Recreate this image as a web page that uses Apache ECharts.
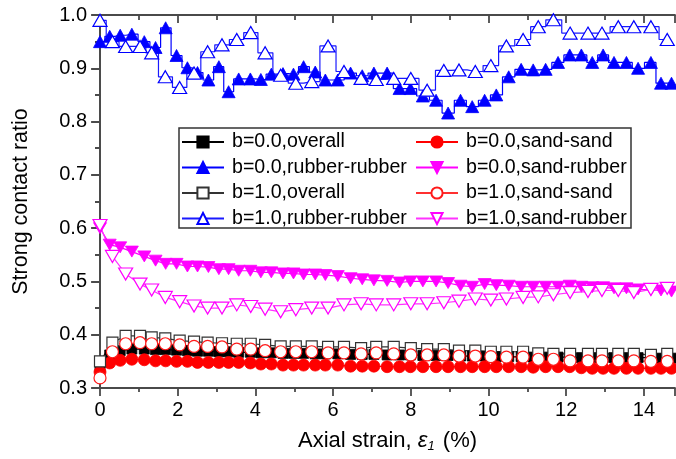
<!DOCTYPE html>
<html><head><meta charset="utf-8">
<script src="https://cdn.jsdelivr.net/npm/echarts@6/dist/echarts.min.js"></script>
<style>html,body{margin:0;padding:0;background:#fff}#c{width:676px;height:459px}</style>
</head><body><div id="c"></div>
<script>
// ---- data ----
const seriesNames = ['b=0.0,overall','b=0.0,sand-sand','b=0.0,rubber-rubber','b=0.0,sand-rubber',
                     'b=1.0,overall','b=1.0,sand-sand','b=1.0,rubber-rubber','b=1.0,sand-rubber'];
const xTickLabels = [0,2,4,6,8,10,12,14];
const yTickLabels = [0.3,0.4,0.5,0.6,0.7,0.8,0.9,1.0];

// strain (%) at sampled points, b=0.0 runs
const strainB0 = [0, 0.25, 0.52, 0.82, 1.14, 1.43, 1.69, 1.97, 2.25, 2.51,
  2.79, 3.06, 3.31, 3.57, 3.87, 4.14, 4.41, 4.71, 4.98, 5.24,
  5.54, 5.80, 6.12, 6.45, 6.75, 7.05, 7.39, 7.71, 7.99, 8.31,
  8.65, 8.96, 9.28, 9.58, 9.90, 10.20, 10.52, 10.84, 11.15, 11.47,
  11.79, 12.09, 12.39, 12.67, 12.95, 13.23, 13.55, 13.85, 14.18, 14.44,
  14.71];
// strain (%) at sampled points, b=1.0 runs
const strainB1 = [0, 0.32, 0.66, 1.03, 1.33, 1.68, 2.05, 2.42, 2.77, 3.14,
  3.52, 3.88, 4.25, 4.65, 5.04, 5.45, 5.87, 6.28, 6.72, 7.11,
  7.56, 8.00, 8.42, 8.85, 9.24, 9.66, 10.06, 10.46, 10.89, 11.28,
  11.67, 12.10, 12.56, 12.92, 13.34, 13.74, 14.18, 14.60];

const overallB0 = [0.340, 0.362, 0.370, 0.373, 0.373, 0.372, 0.372, 0.371, 0.370, 0.369,
  0.369, 0.368, 0.368, 0.367, 0.367, 0.366, 0.366, 0.365, 0.365, 0.365,
  0.364, 0.364, 0.364, 0.363, 0.363, 0.363, 0.362, 0.362, 0.362, 0.361,
  0.361, 0.361, 0.360, 0.360, 0.360, 0.359, 0.359, 0.359, 0.358, 0.358,
  0.358, 0.358, 0.357, 0.357, 0.357, 0.357, 0.357, 0.357, 0.357, 0.356,
  0.356];
const sandSandB0 = [0.330, 0.347, 0.352, 0.354, 0.353, 0.351, 0.351, 0.350, 0.350, 0.348,
  0.348, 0.348, 0.348, 0.348, 0.347, 0.345, 0.345, 0.343, 0.343, 0.343,
  0.343, 0.343, 0.343, 0.341, 0.341, 0.341, 0.340, 0.340, 0.340, 0.340,
  0.340, 0.340, 0.340, 0.340, 0.340, 0.340, 0.340, 0.340, 0.339, 0.340,
  0.340, 0.340, 0.338, 0.337, 0.337, 0.337, 0.337, 0.337, 0.337, 0.337,
  0.337];
const rubberRubberB0 = [0.950, 0.960, 0.962, 0.964, 0.950, 0.939, 0.976, 0.924, 0.901, 0.892,
  0.878, 0.903, 0.856, 0.880, 0.880, 0.879, 0.889, 0.890, 0.889, 0.903,
  0.893, 0.878, 0.878, 0.891, 0.886, 0.891, 0.891, 0.862, 0.862, 0.848,
  0.840, 0.816, 0.840, 0.828, 0.840, 0.850, 0.884, 0.898, 0.897, 0.898,
  0.911, 0.925, 0.925, 0.911, 0.925, 0.911, 0.911, 0.900, 0.911, 0.872,
  0.872];
const sandRubberB0 = [0.600, 0.569, 0.564, 0.556, 0.547, 0.539, 0.533, 0.533, 0.528, 0.528,
  0.527, 0.523, 0.523, 0.520, 0.520, 0.517, 0.517, 0.515, 0.515, 0.513,
  0.513, 0.512, 0.510, 0.506, 0.504, 0.502, 0.501, 0.498, 0.500, 0.500,
  0.500, 0.497, 0.492, 0.490, 0.495, 0.493, 0.492, 0.490, 0.490, 0.490,
  0.490, 0.492, 0.490, 0.489, 0.489, 0.487, 0.487, 0.485, 0.484, 0.483,
  0.481];

const overallB1 = [0.350, 0.385, 0.398, 0.398, 0.395, 0.393, 0.389, 0.387, 0.385, 0.384,
  0.383, 0.383, 0.381, 0.378, 0.378, 0.378, 0.377, 0.377, 0.375, 0.377,
  0.377, 0.375, 0.373, 0.373, 0.370, 0.370, 0.368, 0.368, 0.368, 0.365,
  0.364, 0.364, 0.364, 0.364, 0.364, 0.364, 0.362, 0.364];
const sandSandB1 = [0.319, 0.368, 0.383, 0.385, 0.383, 0.383, 0.381, 0.378, 0.378, 0.377,
  0.373, 0.373, 0.370, 0.368, 0.368, 0.368, 0.366, 0.366, 0.364, 0.366,
  0.364, 0.362, 0.362, 0.362, 0.360, 0.360, 0.359, 0.358, 0.358, 0.354,
  0.354, 0.351, 0.351, 0.351, 0.351, 0.351, 0.350, 0.350];
const rubberRubberB1 = [0.990, 0.950, 0.941, 0.941, 0.929, 0.884, 0.864, 0.891, 0.931, 0.944,
  0.954, 0.967, 0.929, 0.887, 0.872, 0.875, 0.942, 0.894, 0.881, 0.879,
  0.881, 0.881, 0.859, 0.896, 0.897, 0.894, 0.905, 0.942, 0.954, 0.978,
  0.991, 0.966, 0.966, 0.966, 0.978, 0.978, 0.978, 0.954];
const sandRubberB1 = [0.605, 0.547, 0.514, 0.495, 0.484, 0.470, 0.462, 0.454, 0.450, 0.450,
  0.456, 0.453, 0.448, 0.443, 0.447, 0.450, 0.450, 0.456, 0.458, 0.456,
  0.456, 0.458, 0.458, 0.460, 0.463, 0.467, 0.465, 0.467, 0.470, 0.471,
  0.475, 0.479, 0.481, 0.483, 0.483, 0.479, 0.485, 0.487];

// ---- chart ----
const FONT = 'Liberation Sans, Arial, sans-serif';
const AX = '#4a4a4a';
const zip = (xs, ys) => xs.map((x, i) => [x, ys[i]]);
const INV_TRI = 'path://M0,0L12,0L6,10.4Z';

function mk(name, xs, ys, opt) {
  return {
    name, type: 'line', data: zip(xs, ys),
    symbol: opt.symbol, symbolSize: opt.size,
    step: opt.step || false,
    lineStyle: { color: opt.line, width: opt.lw || 1.2 },
    itemStyle: opt.filled ? { color: opt.color, borderColor: opt.color, borderWidth: 0.8 }
                          : { color: '#ffffff', borderColor: opt.color, borderWidth: 1.2 },
    emphasis: { disabled: true },
    clip: true
  };
}

const series = [
  mk(seriesNames[0], strainB0, overallB0, { symbol: 'rect', size: 10, color: '#000', line: '#000', filled: true }),
  mk(seriesNames[1], strainB0, sandSandB0, { symbol: 'circle', size: 12, color: '#ff0000', line: '#ff0000', filled: true }),
  mk(seriesNames[2], strainB0, rubberRubberB0, { symbol: 'triangle', size: [13, 12], color: '#0000ff', line: '#0000ff', filled: true, step: 'middle' }),
  mk(seriesNames[3], strainB0, sandRubberB0, { symbol: INV_TRI, size: [13, 11], color: '#ff00ff', line: '#ff00ff', filled: true }),
  mk(seriesNames[4], strainB1, overallB1, { symbol: 'rect', size: 11, color: '#333', line: '#333', filled: false }),
  mk(seriesNames[5], strainB1, sandSandB1, { symbol: 'circle', size: 12, color: '#ff1a1a', line: '#ff3030', filled: false }),
  mk(seriesNames[6], strainB1, rubberRubberB1, { symbol: 'triangle', size: [14, 12], color: '#0000ff', line: '#1a1aff', filled: false, step: 'middle' }),
  mk(seriesNames[7], strainB1, sandRubberB1, { symbol: INV_TRI, size: [14, 12], color: '#ff00ff', line: '#ff33ff', filled: false })
];

const legendBase = {
  orient: 'vertical', top: 132, padding: 0, itemGap: 5.5,
  itemWidth: 42, itemHeight: 14, selectedMode: false,
  textStyle: { fontFamily: FONT, fontSize: 19.6, color: '#000', padding: [0, 0, 0, 3] }
};

const axisLineStyle = { color: AX, width: 1.8 };
const chart = echarts.init(document.getElementById('c'), null, { renderer: 'canvas' });
chart.setOption({
  animation: false,
  backgroundColor: '#ffffff',
  grid: { left: 100, right: 1, top: 15, bottom: 71, containLabel: false },
  legend: [
    Object.assign({}, legendBase, { left: 181, data: [seriesNames[0], seriesNames[2], seriesNames[4], seriesNames[6]] }),
    Object.assign({}, legendBase, { left: 415, data: [seriesNames[1], seriesNames[3], seriesNames[5], seriesNames[7]] })
  ],
  graphic: [{
    type: 'rect', z: 10,
    shape: { x: 179, y: 128, width: 452, height: 100 },
    style: { fill: 'none', stroke: '#333', lineWidth: 1.5 }
  }],
  xAxis: [{
    type: 'value', position: 'bottom', min: 0, max: 14.8, interval: 2,
    axisLine: { show: true, lineStyle: axisLineStyle },
    axisTick: { show: true, inside: false, length: 8, lineStyle: axisLineStyle },
    minorTick: { show: true, splitNumber: 2, length: 4, lineStyle: axisLineStyle },
    splitLine: { show: false },
    axisLabel: { fontFamily: FONT, fontSize: 20, color: '#000', margin: 12, showMaxLabel: false,
      formatter: v => (xTickLabels.indexOf(v) >= 0 ? String(v) : '') },
    name: '{n|Axial strain, }{e|ε}{s|1}{n| (%)}',
    nameLocation: 'middle', nameGap: 41,
    nameTextStyle: {
      rich: {
        n: { fontFamily: FONT, fontSize: 22, color: '#000', lineHeight: 24 },
        e: { fontFamily: FONT, fontSize: 22, fontStyle: 'italic', color: '#000', lineHeight: 24 },
        s: { fontFamily: FONT, fontSize: 13, fontStyle: 'italic', color: '#000', lineHeight: 13, verticalAlign: 'bottom', padding: [0, 2, 0, 0] }
      }
    }
  }, {
    type: 'value', position: 'top', min: 0, max: 14.8, interval: 2,
    axisLine: { show: true, lineStyle: axisLineStyle },
    axisTick: { show: true, inside: true, length: 8, lineStyle: axisLineStyle },
    minorTick: { show: true, splitNumber: 2, length: 5, lineStyle: axisLineStyle },
    splitLine: { show: false }, axisLabel: { show: false }
  }],
  yAxis: [{
    type: 'value', position: 'left', min: 0.3, max: 1.0, interval: 0.1,
    axisLine: { show: true, lineStyle: axisLineStyle },
    axisTick: { show: true, inside: false, length: 9, lineStyle: axisLineStyle },
    minorTick: { show: true, splitNumber: 2, length: 5, lineStyle: axisLineStyle },
    splitLine: { show: false },
    axisLabel: { fontFamily: FONT, fontSize: 20, color: '#000', margin: 13,
      formatter: v => { const r = Math.round(v * 10) / 10; return yTickLabels.indexOf(r) >= 0 ? r.toFixed(1) : ''; } },
    name: 'Strong contact ratio', nameLocation: 'middle', nameGap: 68,
    nameTextStyle: { fontFamily: FONT, fontSize: 21.5, color: '#000' }
  }, {
    type: 'value', position: 'right', min: 0.3, max: 1.0, interval: 0.1,
    axisLine: { show: true, lineStyle: axisLineStyle },
    axisTick: { show: true, inside: true, length: 8, lineStyle: axisLineStyle },
    minorTick: { show: true, splitNumber: 2, length: 5, lineStyle: axisLineStyle },
    splitLine: { show: false }, axisLabel: { show: false }
  }],
  series: series
});
</script></body></html>
